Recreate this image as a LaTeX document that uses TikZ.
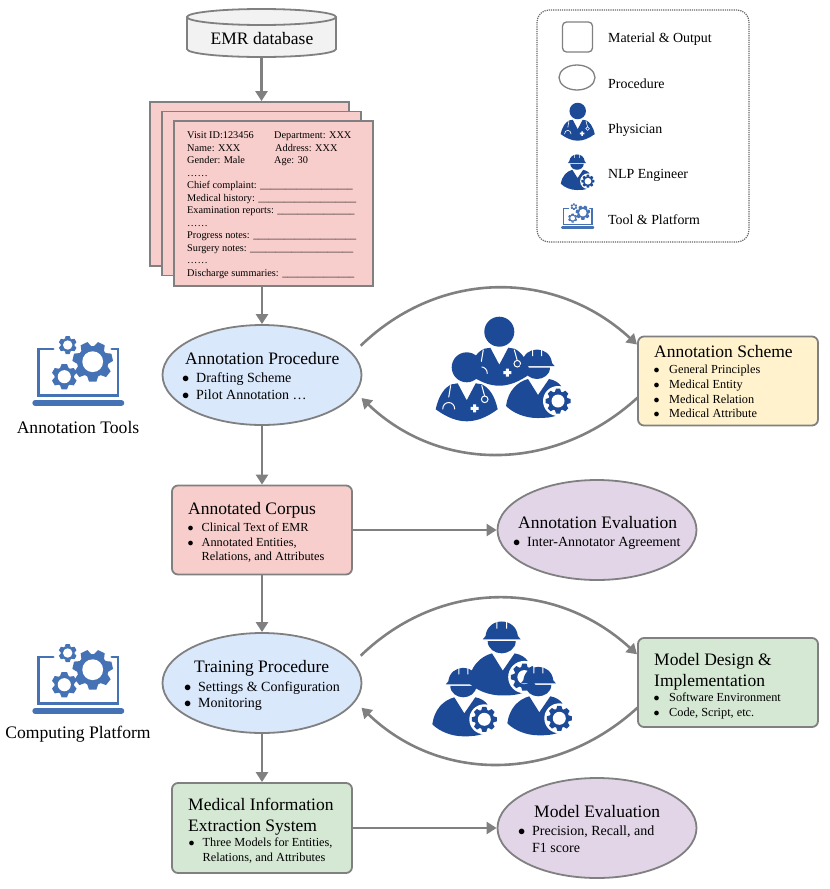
\documentclass[tikz,border=0pt]{standalone}
\usepackage{fontspec}
\setmainfont{Liberation Serif}
\usetikzlibrary{positioning}
\usetikzlibrary{arrows.meta}
\usetikzlibrary{shapes.geometric}
\definecolor{linegray}{HTML}{808080}
\definecolor{iconblue}{HTML}{1D4A97}
\definecolor{lapblue}{HTML}{4472B4}
\definecolor{procblue}{HTML}{DAE8FC}
\definecolor{matpink}{HTML}{F8CECC}
\definecolor{schemeyellow}{HTML}{FFF2CC}
\definecolor{modelgreen}{HTML}{D5E8D4}
\definecolor{evalpurple}{HTML}{E1D5E7}
\newcommand{\bul}[1][14]{\makebox[#1pt][l]{$\bullet$}}
\newcommand{\blanks}[1]{\foreach \i in {1,...,#1}{\_}}
\tikzset{
    matbox/.style={draw=linegray, line width=1.8, rounded corners=6, minimum width=180, minimum height=89, inner sep=0},
    procell/.style={ellipse, draw=linegray, line width=1.8, minimum width=199, minimum height=100, inner sep=0},
    docpage/.style={draw=linegray, line width=1.8, fill=matpink, minimum width=199, minimum height=164, inner sep=0},
    flow/.style={draw=linegray, line width=2.6, -{Triangle[length=10,width=12]}},
    titletxt/.style={anchor=north west, inner sep=0, align=left, font=\fontsize{17.5}{21}\selectfont},
    itemtxt/.style={anchor=north west, inner sep=0, align=left, font=\fontsize{14}{16.8}\selectfont},
    smalltxt/.style={anchor=north west, inner sep=0, align=left, font=\fontsize{12.3}{14.7}\selectfont},
    legtxt/.style={anchor=west, inner sep=0, text height=10, text depth=3, font=\fontsize{13.9}{16}\selectfont},
    sidetxt/.style={inner sep=0, font=\fontsize{17.6}{20}\selectfont},
    pics/gearicon/.style={code={
        \fill[pic actions] (0,0) circle (.78);
        \foreach \k in {1,...,#1}
            \fill[pic actions, rotate={360/#1*\k}] ({-2/#1},.7) -- ({-1.3/#1},1) -- ({1.3/#1},1) -- ({2/#1},.7) -- cycle;
        \fill[white] (0,0) circle (.52);
    }},
    pics/physician/.style={code={
        \fill[iconblue] (0,0) circle (15);
        \fill[iconblue] (-31,42) .. controls (-28,28) and (-22,20) .. (-15,17) -- (-9,16) -- (0,33) -- (9,16) -- (15,17)
            .. controls (22,20) and (28,28) .. (31,42) .. controls (20,50) and (10,54) .. (0,54)
            .. controls (-10,54) and (-20,50) .. (-31,42) -- cycle;
        % stethoscope and cross
        \draw[white, line width=#1] (-16,18) -- (-18,30) (-24,42) .. controls (-24,33) and (-12,33) .. (-12,42);
        \draw[white, line width=#1] (15,18) -- (18,29) (18,32) circle (3.3);
        \fill[white] (6.5,37) rectangle (9.5,45) (4,39.5) rectangle (12,42.5);
    }},
    pics/engineer/.style={code={
        \fill[iconblue] (-17.5,0) -- (-15,-3) .. controls (-14,-12) and (-7,-16.5) .. (0,-16.5)
            .. controls (7,-16.5) and (14,-12) .. (15,-3) -- (17.5,0) -- cycle;
        \fill[white] (-5,-17) rectangle (-4,-10) (4,-17) rectangle (5,-10);
        \fill[iconblue] (-13,1.6) -- (13,1.6) .. controls (13,9) and (6,13) .. (0,13) .. controls (-6,13) and (-13,9) .. (-13,1.6) -- cycle;
        \fill[iconblue] (-31,40) .. controls (-29,25) and (-20,16) .. (-9,13) -- (1,29) -- (12,13)
            .. controls (18,14) and (22,17) .. (24,20) -- (24,48) .. controls (14,52) and (8,52) .. (0,52)
            .. controls (-12,52) and (-24,47) .. (-31,40) -- cycle;
        % gear on the shoulder
        \fill[white] (21,35) circle (15);
        \pic[transform shape, scale=12.5, fill=iconblue] at (21,35) {gearicon=8};
    }},
    pics/laptop/.style={code={
        % screen outline
        \draw[lapblue, line width=2.6*#1, line cap=round] (-25,-51) -- (-39.6,-51) -- (-39.6,-4.7) -- (39.7,-4.7) -- (39.7,-51) -- (33.4,-51);
        % base
        \draw[lapblue, line width=6*#1, line cap=round] (-43,3) -- (43,3);
        \pic[transform shape, scale=20, fill=lapblue] at (14.4,-38.3) {gearicon=7};
        \pic[transform shape, scale=9, fill=lapblue] at (-10.6,-55) {gearicon=6};
        \pic[transform shape, scale=12.6, fill=lapblue] at (-14,-23.3) {gearicon=6};
    }},
}

\begin{document}
\begin{tikzpicture}[x=1pt, y=-1pt]
    \useasboundingbox (0,0) rectangle (830,889);

    % Database and record pages
    \draw[draw=linegray, line width=1.8, fill=black!5] (187,17) -- (187,49) .. controls (187,53.5) and (220,57) .. (261.5,57)
        .. controls (303,57) and (336,53.5) .. (336,49) -- (336,17);
    \draw[draw=linegray, line width=1.8, fill=black!5] (261.5,17) ellipse [x radius=74.5, y radius=8];
    \node[inner sep=0, font=\fontsize{17.5}{21}\selectfont] (emr) at (262,39) {EMR database};
    \coordinate (emrS) at (261.5,57);
    \node[docpage] (pageA) at (249.5,184) {};
    \node[docpage] (pageB) at (261.5,193.5) {};
    \node[docpage, minimum height=165] (pageC) at (273.5,203.5) {};
    \node[anchor=north west, inner sep=0, align=left, font=\fontsize{10.3}{12.52}\selectfont] (record) at (187,131.5) {%
        \makebox[87pt][l]{Visit ID:123456}Department: XXX\\
        \makebox[88pt][l]{Name: XXX}Address: XXX\\
        \makebox[87pt][l]{Gender: Male}Age: 30\\
        ……\\
        Chief complaint: \blanks{18}\\
        Medical history: \blanks{19}\\
        Examination reports: \blanks{15}\\
        ……\\
        Progress notes: \blanks{20}\\
        Surgery notes: \blanks{20}\\
        ……\\
        Discharge summaries: \blanks{14}};

    % Annotation stage
    \node[procell, fill=procblue] (annproc) at (262,375) {};
    \node[matbox, fill=matpink] (corpus) at (262,530) {};
    \node[procell, fill=evalpurple] (anneval) at (597,530) {};
    \node[matbox, fill=schemeyellow] (scheme) at (728,381) {};

    \node[titletxt] (annprocT) at (185,352) {Annotation Procedure};
    \node[itemtxt] (annprocL) at (182,372.5) {\bul Drafting Scheme\\\bul Pilot Annotation …};
    \node[titletxt] (corpusT) at (188,502) {Annotated Corpus};
    \node[smalltxt] (corpusL) at (187.5,522.5) {\bul Clinical Text of EMR\\\bul Annotated Entities,\\\hspace*{14pt}Relations, and Attributes};
    \node[titletxt] (annevalT) at (518,516) {Annotation Evaluation};
    \node[itemtxt] (annevalL) at (513,537) {\bul Inter-Annotator Agreement};
    \node[titletxt] (schemeT) at (654,345) {Annotation Scheme};
    \node[smalltxt] (schemeL) at (653.5,365) {\bul[15.5]General Principles\\\bul[15.5]Medical Entity\\\bul[15.5]Medical Relation\\\bul[15.5]Medical Attribute};

    % Training stage
    \node[procell, fill=procblue] (trainproc) at (262,683) {};
    \node[matbox, fill=modelgreen, minimum height=90] (system) at (262,828) {};
    \node[procell, fill=evalpurple] (modeleval) at (597,828) {};
    \node[matbox, fill=modelgreen] (design) at (728,682.5) {};

    \node[titletxt] (trainprocT) at (194,660) {Training Procedure};
    \node[itemtxt] (trainprocL) at (184,681) {\bul Settings \& Configuration\\\bul Monitoring};
    \node[titletxt] (systemT) at (188,798) {Medical Information\\Extraction System};
    \node[smalltxt] (systemL) at (188.5,838) {\bul Three Models for Entities,\\\hspace*{14pt}Relations, and Attributes};
    \node[titletxt] (modelevalT) at (534,805) {Model Evaluation};
    \node[itemtxt] (modelevalL) at (518,826) {\bul Precision, Recall, and\\\hspace*{14pt}F1 score};
    \node[titletxt] (designT) at (654,653) {Model Design \&\\Implementation};
    \node[smalltxt] (designL) at (653.5,693) {\bul[15.5]Software Environment\\\bul[15.5]Code, Script, etc.};

    % Straight connectors
    \draw[flow] (emrS) -- (emrS |- pageA.north);
    \draw[flow] (annproc.north |- pageC.south) -- (annproc.north);
    \draw[flow] (annproc.south) -- (corpus.north);
    \draw[flow] (corpus.south) -- (trainproc.north);
    \draw[flow] (trainproc.south) -- (system.north);
    \draw[flow] (corpus.east) -- (anneval.west);
    \draw[flow] (system.east) -- (modeleval.west);

    % Curved connectors
    \coordinate (annOut) at (360.7,345.7);
    \coordinate (schemeIn) at (637,344.5);
    \coordinate (schemeOut) at (637.5,397.7);
    \coordinate (annIn) at (361.5,398);
    \coordinate (trainOut) at (360.7,655.7);
    \coordinate (designIn) at (637,654.3);
    \coordinate (designOut) at (637.5,707.7);
    \coordinate (trainIn) at (361.5,707.7);
    \draw[flow] (annOut) .. controls (440,269) and (555,269) .. (schemeIn);
    \draw[flow] (schemeOut) .. controls (555,473) and (440,473) .. (annIn);
    \draw[flow] (trainOut) .. controls (440,579) and (555,579) .. (designIn);
    \draw[flow] (designOut) .. controls (555,783) and (440,783) .. (trainIn);

    % Physicians and engineer
    \pic at (499.3,331.7) {physician=1};
    \pic at (466.7,367.3) {physician=1};
    \pic at (537,366) {engineer};

    % Engineers
    \pic[scale=1.08] at (501.7,639.3) {engineer};
    \pic at (463.3,684.3) {engineer};
    \pic at (538.3,683.3) {engineer};

    % Tools
    \pic at (78.3,400) {laptop=1};
    \node[sidetxt] (toolsL) at (78,427) {Annotation Tools};
    \pic at (78.3,708) {laptop=1};
    \node[sidetxt] (platformL) at (78,734.5) {Computing Platform};

    % Legend
    \node[draw=black!60, line width=1.2, densely dotted, rounded corners=12, minimum width=212, minimum height=232, inner sep=0] (legend) at (643,126) {};
    \node[draw=linegray, line width=1.3, rounded corners=4, minimum width=30, minimum height=30, inner sep=0] (legmat) at (577.5,37) {};
    \node[ellipse, draw=linegray, line width=1.3, minimum width=36, minimum height=25, inner sep=0] (legproc) at (577,77.5) {};
    \pic[scale=.55] at (577.7,111) {physician=.6};
    \pic[scale=.52] at (577,163) {engineer};
    \pic[scale=.36] at (577.7,226.5) {laptop=.4};
    \node[legtxt] (legmatT) at (608,38.5) {Material \& Output};
    \node[legtxt] (legprocT) at (608,84.5) {Procedure};
    \node[legtxt] (legphysT) at (608,129.5) {Physician};
    \node[legtxt] (legengT) at (608,174.5) {NLP Engineer};
    \node[legtxt] (legtoolT) at (608,220.5) {Tool \& Platform};
\end{tikzpicture}
\end{document}
